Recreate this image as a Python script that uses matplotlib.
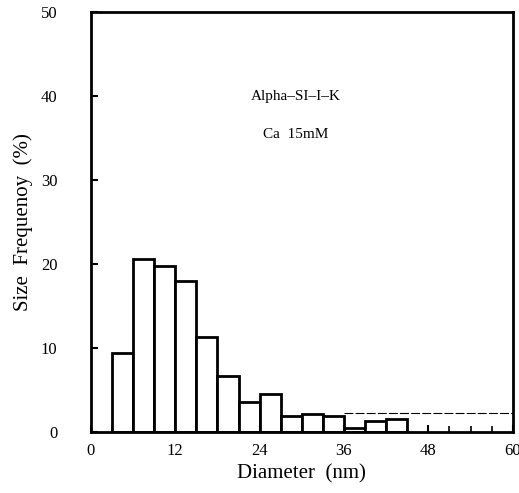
import numpy as np
import matplotlib
matplotlib.use('Agg')
import matplotlib.pyplot as plt

# Size distribution, bins of 3 nm
bin_left = [3, 6, 9, 12, 15, 18, 21, 24, 27, 30, 33, 36, 39, 42]
freq = [9.4, 20.6, 19.7, 17.9, 11.3, 6.7, 3.5, 4.5, 1.9, 2.1, 1.9, 0.5, 1.3, 1.5]
bin_width = 3

x_ticks = [0, 12, 24, 36, 48, 60]
y_ticks = [0, 10, 20, 30, 40, 50]

plt.rcParams['font.family'] = ['Liberation Serif', 'DejaVu Serif']

fig = plt.figure(figsize=(5.19, 4.93), dpi=100)
ax = fig.add_axes([0.175, 0.124, 0.813, 0.852])

ax.bar(bin_left, freq, width=bin_width, align='edge', color='white',
       edgecolor='black', linewidth=2)

# faint dashed line from the scan
ax.plot([36, 60], [2.3, 2.3], color='black', lw=0.8, ls=(0, (8, 2)))

ax.set_xlim(0, 60)
ax.set_ylim(0, 50)
ax.set_xticks(x_ticks)
ax.set_yticks(y_ticks)
ax.set_xticks(np.arange(0, 61, 3), minor=True)
ax.tick_params(direction='in', length=5, width=1.5, labelsize=12)
ax.tick_params(axis='x', pad=8)
ax.tick_params(axis='y', pad=24)
ax.tick_params(which='minor', direction='in', length=4, width=1.2)
for s in ax.spines.values():
    s.set_linewidth(2)

ax.set_xlabel('Diameter  (nm)', fontsize=15, labelpad=4)
ax.set_ylabel('Size  Frequenoy  (%)', fontsize=15, labelpad=6)

ax.text(22.8, 39.9, 'Alpha\u2013SI\u2013I\u2013K', fontsize=11, va='center')
ax.text(24.5, 35.4, 'Ca  15mM', fontsize=11, va='center')

fig.savefig('out.png', dpi=100)
